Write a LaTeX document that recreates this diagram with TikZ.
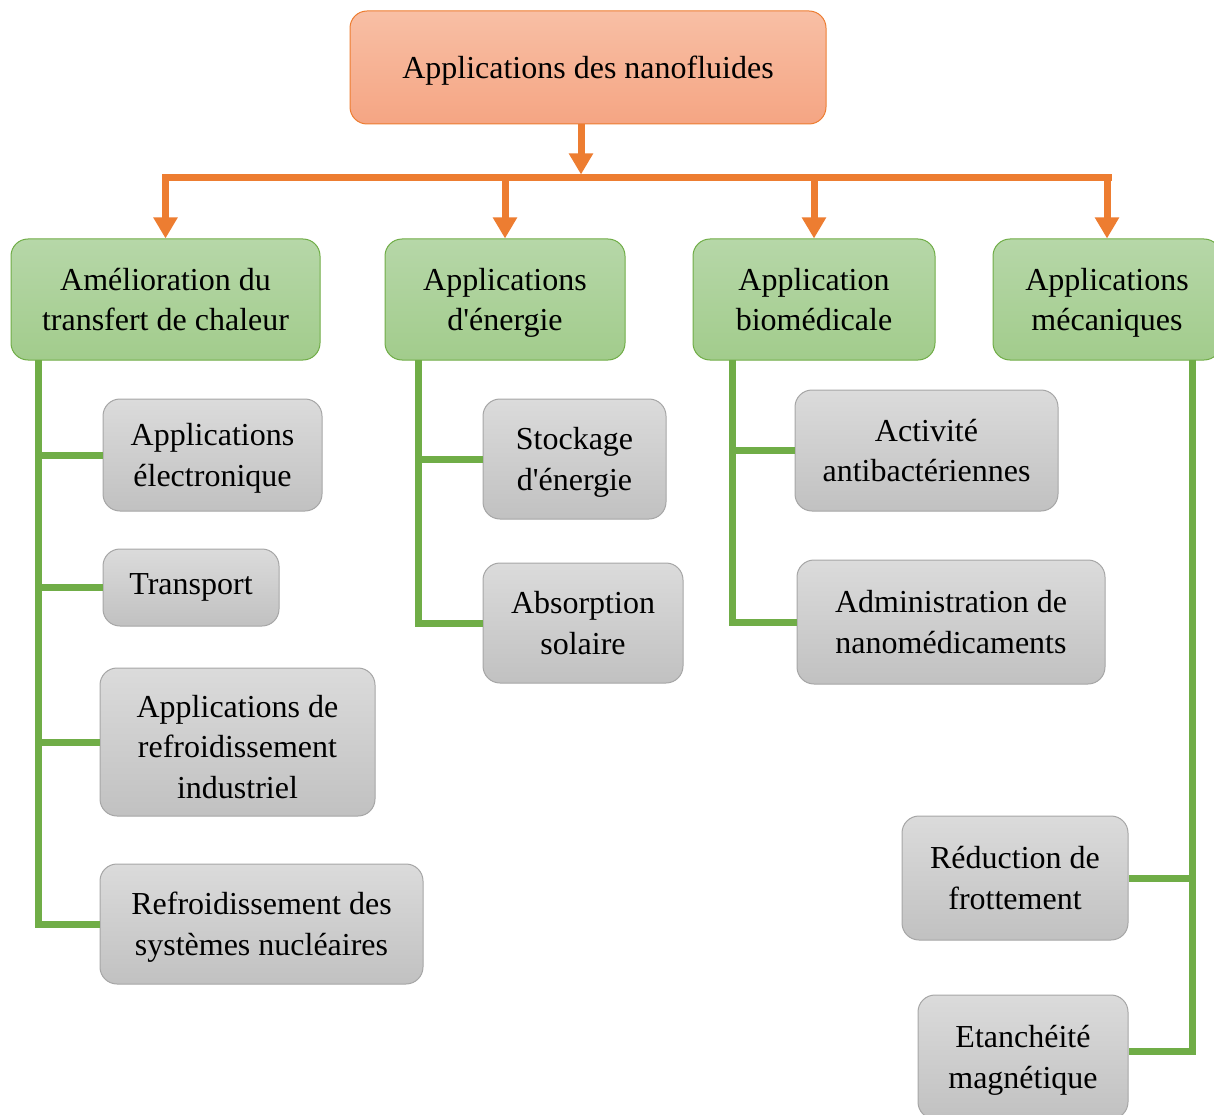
\documentclass[tikz,border=0pt]{standalone}
\usepackage{fontspec}
\setmainfont{Liberation Serif}[Ligatures=TeXOff]
\usetikzlibrary{arrows.meta}
\definecolor{orng}{RGB}{237,125,49}
\definecolor{otop}{RGB}{248,191,165}
\definecolor{obot}{RGB}{245,165,131}
\definecolor{grn}{RGB}{112,173,71}
\definecolor{gtop}{RGB}{182,215,168}
\definecolor{gbot}{RGB}{162,204,140}
\definecolor{ytop}{RGB}{219,219,219}
\definecolor{ybot}{RGB}{193,193,193}
\definecolor{yedge}{RGB}{166,166,166}
\begin{document}
\begin{tikzpicture}[x=1pt,y=-1pt,
  box/.style={rounded corners=17pt, align=center, inner sep=0pt, line width=1pt,
    font=\fontsize{32}{40.5}\selectfont, text depth=0pt},
  lineA/.style={text height=23pt},
  lineB/.style={text height=13pt},
  lineC/.style={text height=62pt},
  lineD/.style={text height=112pt},
  rootbox/.style={box, draw=orng, top color=otop, bottom color=obot},
  catbox/.style={box, draw=grn, top color=gtop, bottom color=gbot},
  leafbox/.style={box, draw=yedge, top color=ytop, bottom color=ybot},
  oline/.style={draw=orng, line width=7pt},
  oarrow/.style={oline, -{Triangle[width=23pt,length=21pt]}},
  gline/.style={draw=grn, line width=7pt, line join=miter}
]
\useasboundingbox (0,0) rectangle (1214,1115);
\clip (0,0) rectangle (1214,1115);

% root
\node[rootbox, lineA, minimum width=476pt, minimum height=113pt] (root) at (588,67.5) {Applications des nanofluides};

% categories
\node[catbox, lineC, minimum width=309pt, minimum height=121pt] (g1) at (165.5,299.5) {Amélioration du\\transfert de chaleur};
\node[catbox, lineC, minimum width=240pt, minimum height=121pt] (g2) at (505,299.5) {Applications\\d'énergie};
\node[catbox, lineC, minimum width=242pt, minimum height=121pt] (g3) at (814,299.5) {Application\\biomédicale};
\node[catbox, lineC, minimum width=228pt, minimum height=121pt] (g4) at (1107,299.5) {Applications\\mécaniques};

% leaves
\node[leafbox, lineC, minimum width=219pt, minimum height=112pt] (e1) at (212.5,455) {Applications\\électronique};
\node[leafbox, lineB, minimum width=176pt, minimum height=77pt] (e2) at (191,587.5) {Transport};
\node[leafbox, lineD, minimum width=275pt, minimum height=148pt] (e3) at (237.5,742) {Applications de\\refroidissement\\industriel};
\node[leafbox, lineC, minimum width=323pt, minimum height=120pt] (e4) at (261.5,924) {Refroidissement des\\systèmes nucléaires};

\node[leafbox, lineC, minimum width=183pt, minimum height=120pt] (s1) at (574.5,459) {Stockage\\d'énergie};
\node[leafbox, lineC, minimum width=200pt, minimum height=120pt] (s2) at (583,623) {Absorption\\solaire};

\node[leafbox, lineC, minimum width=263pt, minimum height=121pt] (b1) at (926.5,450.5) {Activité\\antibactériennes};
\node[leafbox, lineC, minimum width=308pt, minimum height=124pt] (b2) at (951,622) {Administration de\\nanomédicaments};

\node[leafbox, lineC, minimum width=226pt, minimum height=124pt] (m1) at (1015,878) {Réduction de\\frottement};
\node[leafbox, lineC, minimum width=210pt, minimum height=124pt] (m2) at (1023,1057) {Etanchéité\\magnétique};

% orange connectors
\coordinate (busL) at (165,178);
\coordinate (busR) at (1108,178);
\coordinate (busM) at (581,174.5);
\draw[oline, line cap=rect] (busL) -- (busR);
\draw[oarrow] ([xshift=-7pt]root.south) -- (busM);
\draw[oarrow] (g1.north |- busL) -- (g1.north);
\draw[oarrow] (g2.north |- busL) -- (g2.north);
\draw[oarrow] (g3.north |- busL) -- (g3.north);
\draw[oarrow] (g4.north |- busL) -- (g4.north);

% green connectors
\coordinate (t1) at (38,360);
\coordinate (t2) at (418,360);
\coordinate (t3) at (732,360);
\coordinate (t4) at (1192,360);

\draw[gline] (t1) -- (t1 |- e4.west) -- (e4.west);
\draw[gline] (t1 |- e1.west) -- (e1.west);
\draw[gline] (t1 |- e2.west) -- (e2.west);
\draw[gline] (t1 |- e3.west) -- (e3.west);

\draw[gline] (t2) -- (t2 |- s2.west) -- (s2.west);
\draw[gline] (t2 |- s1.west) -- (s1.west);

\draw[gline] (t3) -- (t3 |- b2.west) -- (b2.west);
\draw[gline] (t3 |- b1.west) -- (b1.west);

\draw[gline] (t4) -- (1192,1051) -- (m2.east |- 0,1051);
\draw[gline] (t4 |- m1.east) -- (m1.east);
\end{tikzpicture}
\end{document}
